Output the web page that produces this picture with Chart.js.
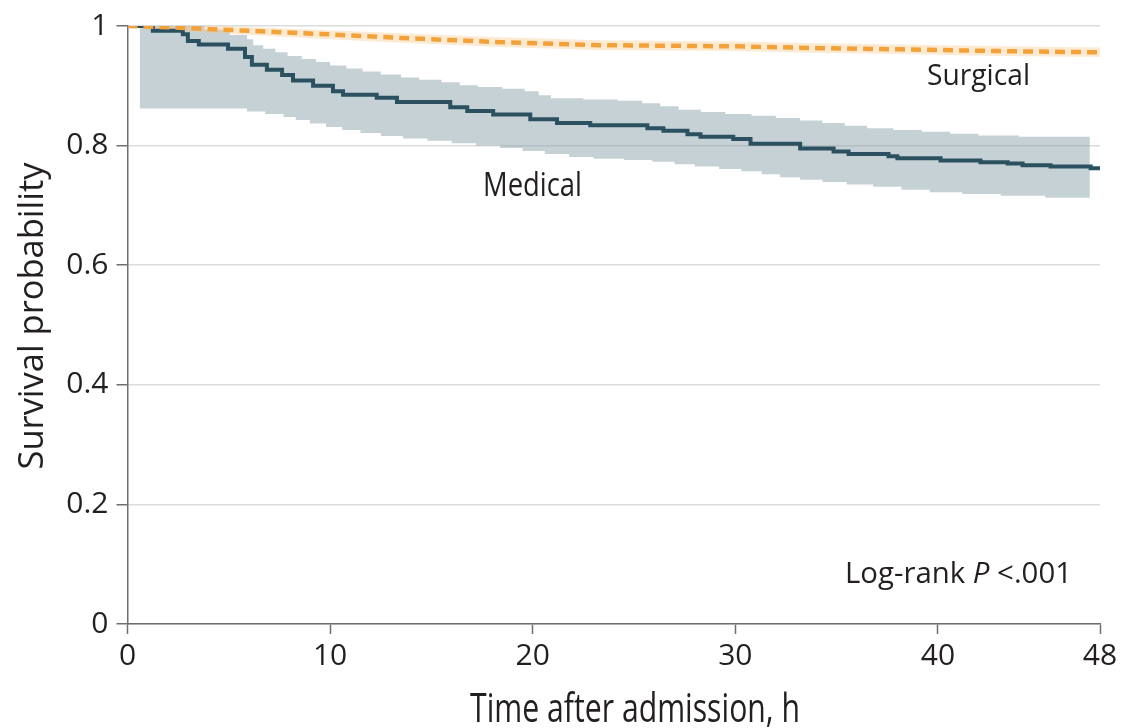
<!DOCTYPE html>
<html>
<head>
<meta charset="utf-8"/>
<script src="https://cdn.jsdelivr.net/npm/chart.js"></script>
<style>
  html, body { margin: 0; padding: 0; background: #ffffff; }
  #wrap { width: 1125px; height: 728px; }
</style>
</head>
<body>
<div id="wrap"><canvas id="km" width="1125" height="728"></canvas></div>
<script>
// medical group: Kaplan-Meier steps (hours, survival)
const medT = [0, 1.25, 2.73, 2.98, 3.52, 4.96, 5.8, 6.14, 6.88, 7.63, 8.17, 9.16, 10.14, 10.64, 12.3, 13.3,
  15.93, 16.77, 18.05, 19.88, 21.2, 22.84, 25.66, 26.45, 27.64, 28.28, 29.9, 30.75, 33.2, 34.85, 35.59,
  37.56, 38.0, 40.13, 42.1, 43.44, 44.18, 45.56, 47.54, 48];
const medS = [1, 0.992, 0.986, 0.975, 0.969, 0.962, 0.948, 0.935, 0.927, 0.918, 0.909, 0.9, 0.891, 0.885, 0.88, 0.873,
  0.864, 0.858, 0.852, 0.844, 0.838, 0.834, 0.829, 0.825, 0.819, 0.815, 0.811, 0.803, 0.795, 0.79, 0.786,
  0.782, 0.779, 0.775, 0.772, 0.77, 0.767, 0.765, 0.762, 0.762];

// medical 95% CI
const medUpT = [0.6, 3.8, 5.05, 5.9, 6.2, 6.7, 7.3, 7.9, 8.6, 9.3, 10.0, 10.8, 11.6, 12.5, 13.5, 14.4, 15.5, 16.4,
  17.3, 18.5, 19.6, 20.3, 20.9, 22.5, 24.2, 25.4, 26.3, 27.2, 28.3, 29.5, 30.8, 32.0, 33.2, 34.3, 35.4, 36.5,
  37.8, 39.2, 40.6, 42.0, 44.0, 47.5];
const medUpS = [1.0, 0.994, 0.985, 0.978, 0.968, 0.962, 0.956, 0.95, 0.945, 0.94, 0.934, 0.929, 0.924, 0.919, 0.914,
  0.91, 0.906, 0.901, 0.898, 0.895, 0.891, 0.884, 0.879, 0.877, 0.875, 0.871, 0.866, 0.86, 0.856, 0.853, 0.85,
  0.846, 0.842, 0.838, 0.833, 0.829, 0.826, 0.823, 0.82, 0.817, 0.815, 0.812];
const medLoT = [0.6, 5.9, 6.8, 7.7, 8.3, 9.0, 9.8, 10.6, 11.5, 12.5, 13.6, 14.8, 16.0, 17.2, 18.4, 19.5, 20.6, 21.8,
  23.0, 24.5, 25.9, 27.0, 28.0, 29.2, 30.3, 31.3, 32.2, 33.2, 34.3, 35.5, 36.8, 38.2, 39.6, 41.2, 43.1, 45.3, 47.5];
const medLoS = [0.862, 0.857, 0.853, 0.848, 0.843, 0.837, 0.831, 0.826, 0.821, 0.816, 0.812, 0.808, 0.804, 0.8, 0.796,
  0.791, 0.786, 0.781, 0.778, 0.776, 0.773, 0.769, 0.765, 0.761, 0.757, 0.752, 0.747, 0.743, 0.739, 0.735, 0.731,
  0.726, 0.722, 0.719, 0.716, 0.713, 0.711];

// surgical group + CI
const surgT  = [0, 2, 5.3, 10, 13.5, 18.4, 23.3, 30, 34.2, 38.2, 43, 48];
const surgS  = [1, 0.998, 0.993, 0.986, 0.98, 0.973, 0.968, 0.966, 0.963, 0.961, 0.958, 0.956];
const surgUpS = [1, 1, 0.999, 0.993, 0.988, 0.981, 0.976, 0.974, 0.971, 0.969, 0.966, 0.964];
const surgLoS = [1, 0.993, 0.986, 0.978, 0.972, 0.965, 0.96, 0.958, 0.955, 0.953, 0.95, 0.948];

const xTicks = [0, 10, 20, 30, 40, 48];
const yTicks = [0, 0.2, 0.4, 0.6, 0.8, 1];

const pts = (xs, ys) => xs.map((x, i) => ({ x: x, y: ys[i] }));

const TXT = '#231f20';
const AXIS = '#6e6e6e';
const FONT = '"Open Sans", "Noto Sans", sans-serif';

// draw text squeezed to a given width (the original uses a condensed face)
function fitText(ctx, parts, x, y, size, width) {
  let total = 0;
  parts.forEach(p => {
    ctx.font = (p.italic ? 'italic ' : '') + size + 'px ' + FONT;
    p.w = ctx.measureText(p.t).width;
    total += p.w;
  });
  const sx = width / total;
  ctx.save();
  ctx.translate(x, y);
  ctx.scale(sx, 1);
  ctx.fillStyle = TXT;
  ctx.textAlign = 'left';
  ctx.textBaseline = 'alphabetic';
  let cx = 0;
  parts.forEach(p => {
    ctx.font = (p.italic ? 'italic ' : '') + size + 'px ' + FONT;
    ctx.fillText(p.t, cx, 0);
    cx += p.w;
  });
  ctx.restore();
}

const labels = {
  id: 'labels',
  afterDraw(chart) {
    const ctx = chart.ctx;
    fitText(ctx, [{ t: 'Medical' }], 483, 196, 32, 99);
    fitText(ctx, [{ t: 'Surgical' }], 927, 85, 29, 103);
    fitText(ctx, [{ t: 'Log-rank ' }, { t: 'P', italic: true }, { t: ' <.001' }], 845, 583, 29, 227);
    fitText(ctx, [{ t: 'Time after admission, h' }], 470, 722, 41, 330);
    // rotated y title
    ctx.save();
    ctx.translate(43, 316);
    ctx.rotate(-Math.PI / 2);
    fitText(ctx, [{ t: 'Survival probability' }], -307 / 2, 0, 35, 307);
    ctx.restore();
  }
};

new Chart(document.getElementById('km'), {
  type: 'line',
  data: {
    datasets: [
      { data: pts(surgT, surgS), borderColor: '#f3a23a', borderWidth: 4.5, borderDash: [10, 6],
        pointRadius: 0, fill: false, order: 0 },
      { data: pts(medT, medS), borderColor: '#2b5160', borderWidth: 4, stepped: true,
        pointRadius: 0, fill: false, order: 1 },
      { data: pts(surgT, surgUpS), borderWidth: 0, pointRadius: 0, fill: '+1',
        backgroundColor: 'rgba(250,196,130,0.35)', order: 2 },
      { data: pts(surgT, surgLoS), borderWidth: 0, pointRadius: 0, fill: false, order: 3 },
      { data: pts(medUpT, medUpS), borderWidth: 0, pointRadius: 0, stepped: true, fill: '+1',
        backgroundColor: 'rgba(128,152,164,0.45)', order: 4 },
      { data: pts(medLoT, medLoS), borderWidth: 0, pointRadius: 0, stepped: true, fill: false, order: 5 }
    ]
  },
  options: {
    responsive: false,
    animation: false,
    layout: { padding: { top: 24, right: 25, left: 0, bottom: 0 } },
    plugins: { legend: { display: false }, tooltip: { enabled: false } },
    scales: {
      x: {
        type: 'linear', min: 0, max: 48,
        border: { display: true, color: AXIS, width: 1.5 },
        grid: { drawOnChartArea: false, drawTicks: true, tickLength: 10, tickColor: AXIS, tickWidth: 1.5 },
        ticks: { color: TXT, font: { family: FONT, size: 30 }, padding: 4, maxRotation: 0, autoSkip: false },
        afterBuildTicks: s => { s.ticks = xTicks.map(v => ({ value: v })); },
        afterFit: s => { s.height = 104; }
      },
      y: {
        min: 0, max: 1,
        border: { display: true, color: AXIS, width: 1.5 },
        grid: { color: '#dcdcdc', lineWidth: 1.5, tickLength: 11, tickColor: AXIS, tickWidth: 1.5 },
        ticks: {
          color: TXT, font: { family: FONT, size: 30 }, padding: 8,
          callback: v => (v === 0 || v === 1) ? String(v) : v.toFixed(1)
        },
        afterBuildTicks: s => { s.ticks = yTicks.map(v => ({ value: v })); },
        afterFit: s => { s.width = 127.5; }
      }
    }
  },
  plugins: [labels]
});
</script>
</body>
</html>
